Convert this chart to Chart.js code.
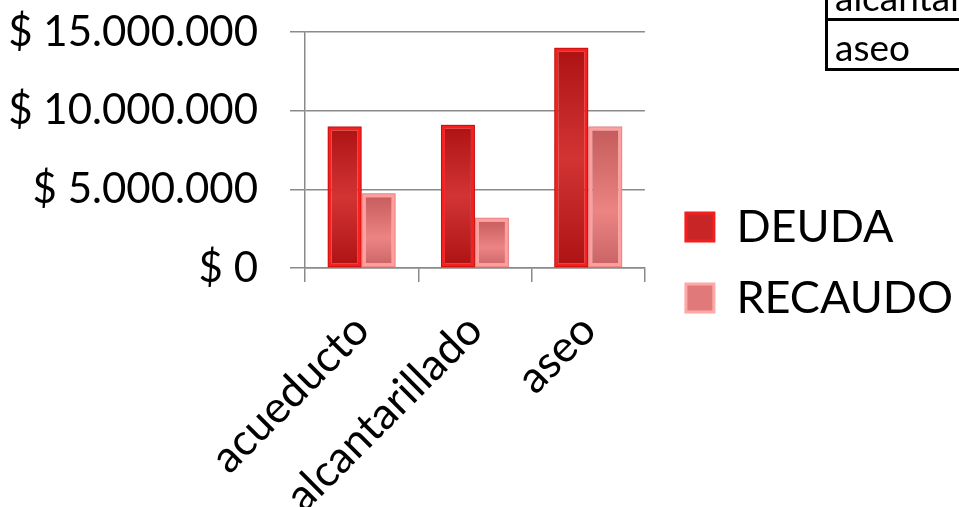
<!DOCTYPE html>
<html><head><meta charset="utf-8">
<script src="https://cdn.jsdelivr.net/npm/chart.js@4.4.1/dist/chart.umd.min.js"></script>
<style>
html,body{margin:0;padding:0;background:#fff;overflow:hidden}
#wrap{position:relative;width:959px;height:507px;overflow:hidden}
#c{position:absolute;left:0;top:0}
.ln{position:absolute;background:#000}
.tt{position:absolute;font-family:Lato,"Open Sans",sans-serif;font-size:37px;line-height:40px;color:#000;white-space:nowrap}
</style></head><body>
<div id="wrap">
<canvas id="c" width="959" height="507"></canvas>
<div class="ln" style="left:825px;top:0;width:3px;height:71px"></div>
<div class="ln" style="left:825px;top:18px;width:140px;height:3px"></div>
<div class="ln" style="left:825px;top:68px;width:140px;height:3px"></div>
<div class="tt" id="t1" style="left:835px;top:-23px"></div>
<div class="tt" id="t2" style="left:835px;top:27px"></div>
</div>
<script>
const categories = ['acueducto', 'alcantarillado', 'aseo'];
const seriesNames = ['DEUDA', 'RECAUDO'];
const deuda = [9000000, 9100000, 14000000];
const recaudo = [4750000, 3200000, 9000000];
const yTicks = [0, 5000000, 10000000, 15000000];
const tableRows = ['alcantarillado', 'aseo'];

document.getElementById('t1').textContent = tableRows[0];
document.getElementById('t2').textContent = tableRows[1];

function money(v){ return '$ ' + String(v).replace(/\B(?=(\d{3})+(?!\d))/g, '.'); }

function barFill(stops, fallback){
  return (ctx) => {
    const chart = ctx.chart;
    const ys = chart.scales && chart.scales.y;
    if (!chart.chartArea || !ys || ctx.type !== 'data') return fallback;
    const top = ys.getPixelForValue(ctx.raw), bot = ys.getPixelForValue(0);
    if (!isFinite(top) || !isFinite(bot) || bot - top < 1) return fallback;
    const g = chart.ctx.createLinearGradient(0, top, 0, bot);
    stops.forEach(s => g.addColorStop(s[0], s[1]));
    return g;
  };
}

function noPad(s){ s.paddingTop = 0; s.paddingBottom = 0; s.paddingLeft = 0; s.paddingRight = 0; }

// thin dark outline around each bar for the bevelled look
const barOutline = {
  id: 'barOutline',
  afterDatasetsDraw(chart) {
    const ctx = chart.ctx;
    const outline = ['rgba(150,0,0,0.55)', 'rgba(210,110,110,0.55)'];
    chart.data.datasets.forEach((ds, di) => {
      chart.getDatasetMeta(di).data.forEach((el) => {
        const p = el.getProps(['x', 'y', 'base', 'width'], true);
        ctx.save();
        ctx.strokeStyle = outline[di];
        ctx.lineWidth = 1;
        ctx.strokeRect(p.x - p.width / 2 + 0.5, p.y + 0.5, p.width - 1, p.base - p.y - 1);
        ctx.restore();
      });
    });
  }
};

const gridColor = '#8a8a8a';
const lato = 'Lato, "Open Sans", sans-serif';

new Chart(document.getElementById('c'), {
  type: 'bar',
  data: {
    labels: categories,
    datasets: [
      {
        label: seriesNames[0], data: deuda, yAxisID: 'y',
        backgroundColor: barFill([[0,'#ad1212'],[0.5,'#d23434'],[1,'#ad1212']], '#c42424'),
        borderColor: '#f81f1f', borderWidth: 4, borderSkipped: false,
        categoryPercentage: 0.6, barPercentage: 1.0
      },
      {
        label: seriesNames[1], data: recaudo, yAxisID: 'y',
        backgroundColor: barFill([[0,'#c45a5a'],[0.6,'#ec8484'],[1,'#c86262']], '#dc7474'),
        borderColor: '#ff9e9e', borderWidth: 4, borderSkipped: false,
        categoryPercentage: 0.6, barPercentage: 1.0
      }
    ]
  },
  plugins: [barOutline],
  options: {
    responsive: false,
    animation: false,
    devicePixelRatio: 1,
    layout: { padding: { top: 18, right: -4, bottom: 0, left: 0 } },
    plugins: {
      tooltip: { enabled: false },
      legend: {
        position: 'right',
        maxWidth: 320,
        labels: {
          font: { family: lato, size: 45 },
          color: '#000',
          boxWidth: 28, boxHeight: 28, padding: 26,
          generateLabels: (chart) => chart.data.datasets.map((ds, i) => ({
            text: ds.label,
            fillStyle: i === 0 ? '#c82626' : '#e07a7a',
            strokeStyle: i === 0 ? '#f41e1e' : '#ffa8a8',
            lineWidth: 3, hidden: false, datasetIndex: i
          }))
        }
      }
    },
    scales: {
      x: {
        type: 'category',
        position: 'bottom',
        offset: true,
        grid: { display: true, drawOnChartArea: false, drawTicks: true, tickLength: 14, color: gridColor, lineWidth: 1.5, offset: true },
        border: { display: true, color: gridColor, width: 1.5 },
        ticks: { font: { family: lato, size: 44 }, color: '#000', maxRotation: 45, minRotation: 45, autoSkip: false, padding: 22 },
        afterFit: (s) => { s.height = 239; noPad(s); }
      },
      xTop: {
        type: 'linear', axis: 'x', position: 'top', display: true,
        grid: { display: false }, border: { display: false }, ticks: { display: false },
        afterFit: (s) => { s.height = 14; noPad(s); }
      },
      y: {
        type: 'linear', position: 'left', min: 0, max: 15000000,
        afterBuildTicks: (s) => { s.ticks = yTicks.map(v => ({ value: v })); },
        grid: { color: gridColor, lineWidth: 1.5, tickLength: 15, drawTicks: true },
        border: { display: true, color: gridColor, width: 1.5 },
        ticks: { font: { family: lato, size: 42 }, color: '#000', padding: 32, callback: (v) => money(v) },
        afterFit: (s) => { s.width = 305; noPad(s); }
      },
      yRight: {
        type: 'linear', position: 'right', display: true,
        grid: { display: false }, border: { display: false }, ticks: { display: false },
        afterFit: (s) => { s.width = 15; noPad(s); }
      }
    }
  }
});
</script>
</body></html>
